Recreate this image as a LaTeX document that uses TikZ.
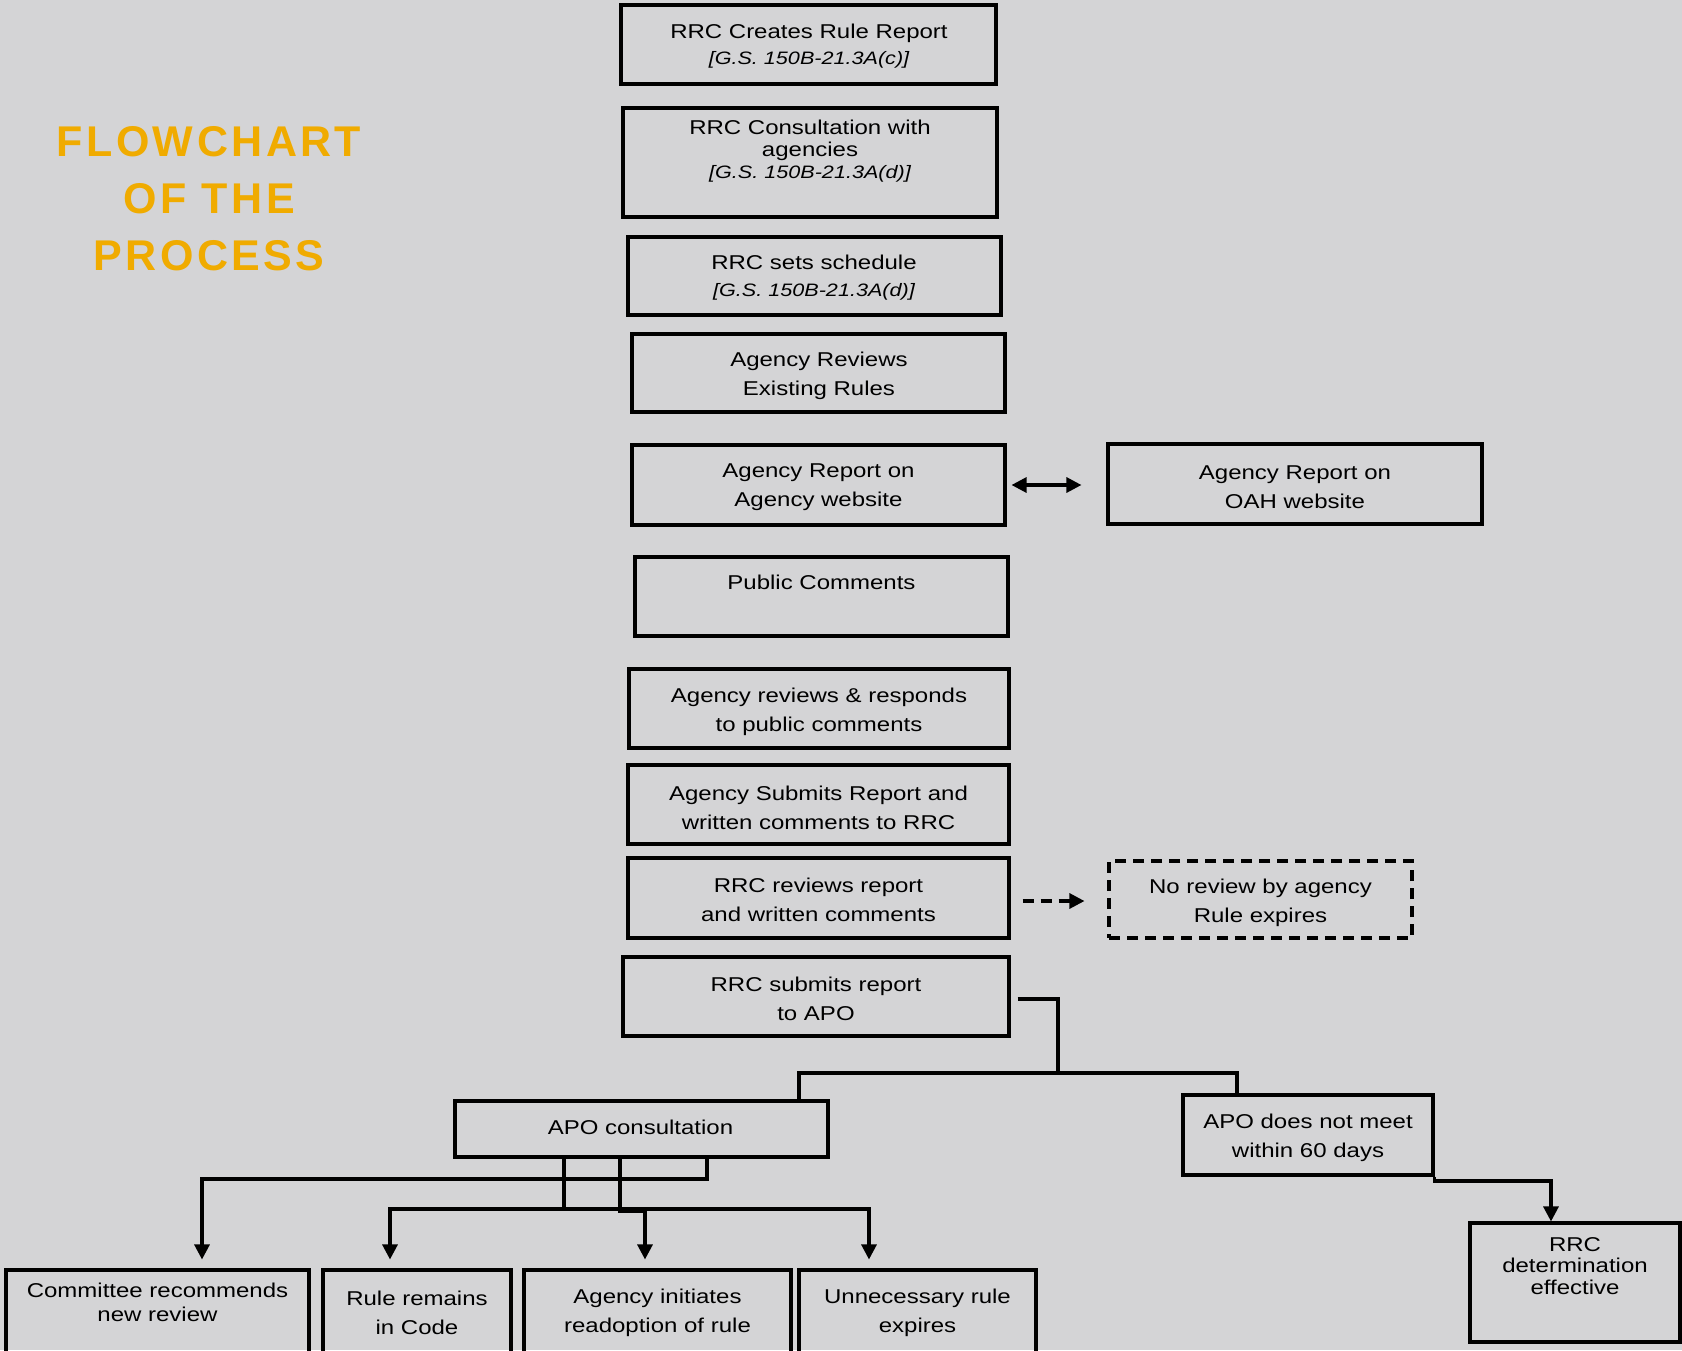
\documentclass[tikz,border=0pt]{standalone}
\usepackage{fontspec}
\setmainfont[FakeStretch=1.2]{Liberation Sans}
\newfontfamily\titlefont[LetterSpace=8]{Liberation Sans}
\usetikzlibrary{fit,calc,arrows.meta}
\definecolor{bgc}{RGB}{212,212,214}
\definecolor{titlec}{RGB}{240,171,0}
\begin{document}
\begin{tikzpicture}[x=0.5pt,y=-0.5pt,
  box/.style={draw, line width=1.55pt, inner sep=0pt},
  fa/.style={font=\fontsize{10}{14.5}\selectfont, align=center, inner sep=0pt},
  fb/.style={font=\fontsize{10}{13}\selectfont, align=center, inner sep=0pt},
  fc/.style={font=\fontsize{10}{11}\selectfont, align=center, inner sep=0pt},
  fd/.style={font=\fontsize{10}{13.5}\selectfont, align=center, inner sep=0pt},
  conn/.style={line width=1.55pt},
  arr/.style={line width=1.55pt, -{Triangle[length=7.5pt,width=7.5pt]}},
  darr/.style={line width=1.55pt, {Triangle[length=7.5pt,width=7.5pt]}-{Triangle[length=7.5pt,width=7.5pt]}},
  dsh/.style={dash pattern=on 5.5pt off 3.5pt},
  ttl/.style={font={\fontsize{21.5}{28.5}\titlefont\bfseries}, text=titlec, align=center}
]
\fill[bgc] (0,0) rectangle (1682,1350);
\useasboundingbox (0,0) rectangle (1682,1350);
\clip (0,0) rectangle (1682,1350);

\newcommand{\gs}[1]{{\fontsize{9}{13}\selectfont\itshape #1}}

% title
\node[ttl] (title) at (209,199) {FLOWCHART\\OF THE\\PROCESS};

% main column boxes
\node[box, fit={(621,5) (996,84)}] (b1) {};
\node[fb] (b1t) at (809,46.5) {RRC Creates Rule Report\\\gs{[G.S. 150B-21.3A(c)]}};
\node[box, fit={(623,108) (997,217)}] (b2) {};
\node[fc] (b2t) at (810,151) {RRC Consultation with\\agencies\\\gs{[G.S. 150B-21.3A(d)]}};
\node[box, fit={(628,237) (1001,315)}] (b3) {};
\node[fd] (b3t) at (814,278) {RRC sets schedule\\\gs{[G.S. 150B-21.3A(d)]}};
\node[box, fit={(632,334) (1005,412)}] (b4) {};
\node[fa] (b4t) at (819,376) {Agency Reviews\\Existing Rules};
\node[box, fit={(632,445) (1005,525)}] (b5) {};
\node[fa] (b5t) at (818.5,487.5) {Agency Report on\\Agency website};
\node[box, fit={(1108,444) (1482,524)}] (oah) {};
\node[fa] (oaht) at (1295,487) {Agency Report on\\OAH website};
\node[box, fit={(635,557) (1008,636)}] (b6) {};
\node[fa] (b6t) at (821.5,582.5) {Public Comments};
\node[box, fit={(629,669) (1009,748)}] (b7) {};
\node[fa] (b7t) at (819,711.5) {Agency reviews \& responds\\to public comments};
\node[box, fit={(628,765) (1009,844)}] (b8) {};
\node[fa] (b8t) at (818.5,807.5) {Agency Submits Report and\\written comments to RRC};
\node[box, fit={(628,858) (1009,938)}] (b9) {};
\node[fa] (b9t) at (818.5,900) {RRC reviews report\\and written comments};
\node[box, dsh, fit={(1109,861) (1412,938)}] (nor) {};
\node[fa] (nort) at (1260.5,903) {No review by agency\\Rule expires};
\node[box, fit={(623,957) (1009,1036)}] (b10) {};
\node[fa] (b10t) at (816,998.5) {RRC submits report\\to APO};

% second level
\node[box, fit={(455,1101) (828,1157)}] (apo1) {};
\node[fa] (apo1t) at (640.5,1127) {APO consultation};
\node[box, fit={(1183,1095) (1433,1175)}] (apo2) {};
\node[fa] (apo2t) at (1308,1137.5) {APO does not meet\\within 60 days};
\node[box, fit={(1470,1223) (1680,1342)}] (det) {};
\node[font=\fontsize{10}{10.75}\selectfont, align=center, inner sep=0pt] (dett) at (1575,1266) {RRC\\determination\\effective};

% bottom row
\node[box, fit={(6,1270) (309,1380)}] (com) {};
\node[font=\fontsize{10}{12.3}\selectfont, align=center, inner sep=0pt] (comt) at (157.5,1302.5) {Committee recommends\\new review};
\node[box, fit={(323,1270) (511,1380)}] (rule) {};
\node[fa] (rulet) at (417,1313) {Rule remains\\in Code};
\node[box, fit={(524,1270) (791,1380)}] (agi) {};
\node[fa] (agit) at (657.5,1313) {Agency initiates\\readoption of rule};
\node[box, fit={(799,1270) (1036,1380)}] (unn) {};
\node[fa] (unnt) at (917.5,1313) {Unnecessary rule\\expires};

% connectors
\draw[darr, shorten <=2.5pt, shorten >=12.5pt] (b5.east) -- (b5.east -| oah.west);
\draw[arr, dsh, shorten <=6pt, shorten >=11.5pt] ($(b9.east)+(0,3)$) -- ($(b9.east -| nor.west)+(0,3)$);

\coordinate (j1) at (1058,1073);
\draw[conn] ($(b10.east)+(7,2.5)$) -| (j1);
\draw[conn] (799,0 |- apo1.north) |- (j1) -| (1237,0 |- apo2.north);

\draw[arr] (apo2.south east) |- (1551,1181) -- (1551,0 |- det.north);

\coordinate (j2) at (564,1209);
\draw[arr, shorten >=4.5pt] (707,0 |- apo1.south) |- (202,1179) -- (202,0 |- com.north);
\draw[arr, shorten >=4.5pt] (564,0 |- apo1.south) -- (j2) -| (390,0 |- rule.north);
\draw[arr, shorten >=4.5pt] (j2) -| (869,0 |- unn.north);
\draw[arr, shorten >=4.5pt] (620,0 |- apo1.south) |- (645,1211) -- (645,0 |- agi.north);
\end{tikzpicture}
\end{document}
